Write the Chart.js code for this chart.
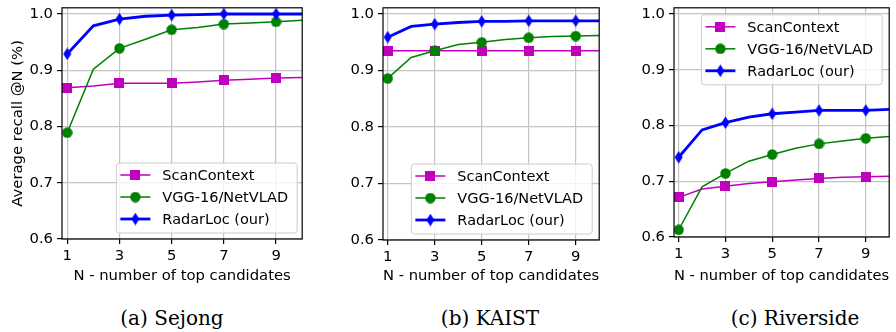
<!DOCTYPE html>
<html>
<head>
<meta charset="utf-8">
<script src="https://cdn.jsdelivr.net/npm/chart.js@4.4.1/dist/chart.umd.min.js"></script>
<style>
  html, body { margin: 0; padding: 0; background: #fff; overflow: hidden; }
  body { width: 896px; height: 332px; position: relative; }
  .panel { position: absolute; top: 0; }
  .caption {
    position: absolute; top: 306px; height: 24px; line-height: 24px;
    font-family: 'DejaVu Serif', serif; font-size: 20px; color: #000;
    transform: translateX(-50%); white-space: nowrap;
  }
</style>
</head>
<body>
<div class="panel" style="left:0px"><canvas id="chartA" width="310" height="290"></canvas></div>
<div class="panel" style="left:343px"><canvas id="chartB" width="264" height="290"></canvas></div>
<div class="panel" style="left:634px"><canvas id="chartC" width="263" height="290"></canvas></div>
<div class="caption" style="left:172px">(a) Sejong</div>
<div class="caption" style="left:490px">(b) KAIST</div>
<div class="caption" style="left:795px">(c) Riverside</div>
<script>
const nValues = [1, 2, 3, 4, 5, 6, 7, 8, 9, 10];
const xTicks = [1, 3, 5, 7, 9];
const yTicks = [0.6, 0.7, 0.8, 0.9, 1.0];
const seriesNames = ['ScanContext', 'VGG-16/NetVLAD', 'RadarLoc (our)'];

const sejongScan = [0.869, 0.872, 0.877, 0.877, 0.877, 0.879, 0.882, 0.884, 0.886, 0.887];
const sejongVgg = [0.789, 0.902, 0.939, 0.955, 0.972, 0.976, 0.982, 0.984, 0.986, 0.989];
const sejongRadar = [0.929, 0.979, 0.991, 0.996, 0.998, 0.999, 1.0, 1.0, 1.0, 1.0];

const kaistScan = [0.935, 0.935, 0.935, 0.935, 0.935, 0.935, 0.935, 0.935, 0.935, 0.935];
const kaistVgg = [0.886, 0.923, 0.935, 0.946, 0.950, 0.955, 0.958, 0.960, 0.961, 0.962];
const kaistRadar = [0.959, 0.978, 0.982, 0.985, 0.987, 0.987, 0.988, 0.988, 0.988, 0.988];

const riversideScan = [0.671, 0.686, 0.691, 0.696, 0.699, 0.702, 0.705, 0.707, 0.708, 0.709];
const riversideVgg = [0.613, 0.690, 0.714, 0.736, 0.748, 0.759, 0.767, 0.772, 0.777, 0.780];
const riversideRadar = [0.743, 0.792, 0.805, 0.815, 0.821, 0.824, 0.827, 0.827, 0.827, 0.829];

const FONT = '"DejaVu Sans", sans-serif';
Chart.defaults.font.family = FONT;
Chart.defaults.font.size = 14.8;
Chart.defaults.color = '#000';

// small canvases used as point markers (square, circle, thin diamond)
const makeMarker = (w, h, draw) => {
  const c = document.createElement('canvas');
  c.width = w; c.height = h;
  draw(c.getContext('2d'));
  return c;
};
const squareMark = makeMarker(10, 10, (g) => { g.fillStyle = '#bf00bf'; g.fillRect(0, 0, 10, 10); });
const circleMark = makeMarker(11, 11, (g) => {
  g.fillStyle = '#008000'; g.beginPath(); g.arc(5.5, 5.5, 5.2, 0, Math.PI * 2); g.fill();
});
const diamondMark = makeMarker(9, 13, (g) => {
  g.fillStyle = '#0000ff'; g.beginPath();
  g.moveTo(4.5, 0.3); g.lineTo(8.5, 6.5); g.lineTo(4.5, 12.7); g.lineTo(0.5, 6.5);
  g.closePath(); g.fill();
});

const seriesStyles = [
  { color: '#bf00bf', width: 1.5, marker: squareMark },
  { color: '#008000', width: 1.5, marker: circleMark },
  { color: '#0000ff', width: 2.8, marker: diamondMark }
];

// axes frame on all four sides + matplotlib-like legend box
const frameLegend = {
  id: 'frameLegend',
  afterDatasetsDraw(chart, args, opts) {
    const { ctx, chartArea: a } = chart;
    ctx.save();
    ctx.strokeStyle = '#000';
    ctx.lineWidth = 1.2;
    ctx.strokeRect(a.left, a.top, a.right - a.left, a.bottom - a.top);

    ctx.font = '14.5px ' + FONT;
    const textW = Math.max(...seriesNames.map((t) => ctx.measureText(t).width));
    const boxW = textW + 55;
    const boxH = 70;
    const x0 = a.right - opts.margin - boxW;
    const y0 = opts.corner === 'upper' ? a.top + 7 : a.bottom - 6 - boxH;
    const r = 3;
    ctx.beginPath();
    ctx.moveTo(x0 + r, y0);
    ctx.arcTo(x0 + boxW, y0, x0 + boxW, y0 + boxH, r);
    ctx.arcTo(x0 + boxW, y0 + boxH, x0, y0 + boxH, r);
    ctx.arcTo(x0, y0 + boxH, x0, y0, r);
    ctx.arcTo(x0, y0, x0 + boxW, y0, r);
    ctx.closePath();
    ctx.fillStyle = 'rgba(255,255,255,0.8)';
    ctx.fill();
    ctx.strokeStyle = '#cccccc';
    ctx.lineWidth = 1;
    ctx.stroke();

    seriesNames.forEach((name, i) => {
      const st = seriesStyles[i];
      const cy = y0 + 12 + i * 22;
      ctx.strokeStyle = st.color;
      ctx.lineWidth = st.width;
      ctx.beginPath();
      ctx.moveTo(x0 + 4, cy);
      ctx.lineTo(x0 + 34, cy);
      ctx.stroke();
      ctx.drawImage(st.marker, x0 + 19 - st.marker.width / 2, cy - st.marker.height / 2);
      ctx.fillStyle = '#000';
      ctx.textBaseline = 'middle';
      ctx.textAlign = 'left';
      ctx.fillText(name, x0 + 46, cy + 1);
    });
    ctx.restore();
  }
};

const buildChart = (id, values, cfg) => {
  const datasets = values.map((vals, i) => ({
    label: seriesNames[i],
    data: nValues.map((n, k) => ({ x: n, y: vals[k] })),
    borderColor: seriesStyles[i].color,
    backgroundColor: seriesStyles[i].color,
    borderWidth: seriesStyles[i].width,
    pointStyle: seriesStyles[i].marker,
    pointRadius: (c) => (xTicks.includes(c.raw.x) ? 5 : 0),
    tension: 0,
    order: 3 - i
  }));

  return new Chart(document.getElementById(id), {
    type: 'line',
    data: { datasets },
    options: {
      responsive: false,
      animation: false,
      events: [],
      layout: { padding: { top: 7, right: cfg.right, left: 0, bottom: 0 } },
      plugins: {
        legend: { display: false },
        tooltip: { enabled: false },
        frameLegend: { corner: cfg.corner, margin: cfg.legendMargin }
      },
      scales: {
        x: {
          type: 'linear',
          min: 0.8,
          max: 10,
          afterBuildTicks: (s) => { s.ticks = xTicks.map((v) => ({ value: v })); },
          afterFit: (s) => { s.height = cfg.xHeight; s.paddingLeft = 0; s.paddingRight = 0; },
          grid: { color: '#c4c4c4', lineWidth: 1.2, tickLength: 5, tickColor: '#000', tickWidth: 1.2 },
          border: { display: false },
          ticks: { padding: 3, maxRotation: 0, autoSkip: false, callback: (v) => String(v) },
          title: { display: true, text: 'N - number of top candidates', padding: { top: 0, bottom: 5 } }
        },
        y: {
          type: 'linear',
          min: 0.6,
          max: 1.011,
          afterBuildTicks: (s) => { s.ticks = yTicks.map((v) => ({ value: v })); },
          afterFit: (s) => { s.width = cfg.yWidth; s.paddingTop = 0; s.paddingBottom = 0; },
          grid: { color: '#c4c4c4', lineWidth: 1.2, tickLength: 5, tickColor: '#000', tickWidth: 1.2 },
          border: { display: false },
          ticks: { padding: 4, autoSkip: false, callback: (v) => Number(v).toFixed(1) },
          title: { display: cfg.yTitle, text: 'Average recall @N (%)', padding: { top: 9, bottom: 0 } }
        }
      }
    },
    plugins: [frameLegend]
  });
};

buildChart('chartA', [sejongScan, sejongVgg, sejongRadar],
  { yWidth: 62, xHeight: 51, right: 3, corner: 'lower', legendMargin: 5, yTitle: true });
buildChart('chartB', [kaistScan, kaistVgg, kaistRadar],
  { yWidth: 40, xHeight: 50, right: 3, corner: 'lower', legendMargin: 7, yTitle: false });
buildChart('chartC', [riversideScan, riversideVgg, riversideRadar],
  { yWidth: 40, xHeight: 53, right: 1, corner: 'upper', legendMargin: 7, yTitle: false });
</script>
</body>
</html>
